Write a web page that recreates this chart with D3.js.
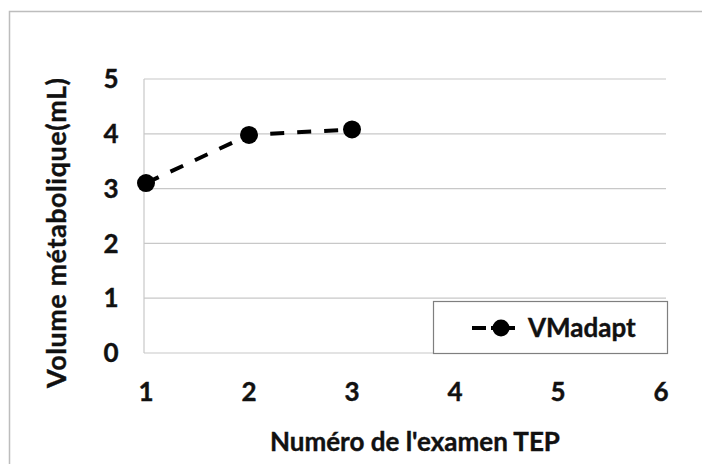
<!DOCTYPE html>
<html>
<head>
<meta charset="utf-8">
<script src="https://cdn.jsdelivr.net/npm/d3@7"></script>
<style>
  body { margin: 0; background: #fff; }
  text { font-family: Lato, "Open Sans", sans-serif; font-weight: bold; fill: #111; stroke: #111; stroke-width: 0.4px; }
</style>
</head>
<body>
<div id="chart"></div>
<script>
var width = 702;
var height = 464;

var examens = [1, 2, 3];
var vmadapt = [3.1, 3.98, 4.08];
var xTicks = [1, 2, 3, 4, 5, 6];
var yTicks = [0, 1, 2, 3, 4, 5];
var seriesName = "VMadapt";

var svg = d3.select("#chart").append("svg")
  .attr("width", width)
  .attr("height", height);

// outer frame
svg.append("rect")
  .attr("x", 9.5).attr("y", 11.5)
  .attr("width", 700).attr("height", 460)
  .attr("fill", "none")
  .attr("stroke", "#bdbdbd")
  .attr("stroke-width", 1.5);

var x = d3.scaleLinear().domain([1, 6]).range([146, 661]);
var y = d3.scaleLinear().domain([0, 5]).range([353, 79]);

// gridlines
svg.append("g").selectAll("line")
  .data(yTicks.filter(function(d) { return d > 0; }))
  .enter().append("line")
  .attr("x1", 144).attr("x2", 666)
  .attr("y1", function(d) { return y(d); })
  .attr("y2", function(d) { return y(d); })
  .attr("stroke", "#c8c8c8")
  .attr("stroke-width", 1.2);

// axes lines
svg.append("line")
  .attr("x1", 144).attr("x2", 144)
  .attr("y1", y(5)).attr("y2", y(0))
  .attr("stroke", "#c8c8c8").attr("stroke-width", 1.2);
svg.append("line")
  .attr("x1", 144).attr("x2", 666)
  .attr("y1", y(0)).attr("y2", y(0))
  .attr("stroke", "#c8c8c8").attr("stroke-width", 1.2);

// y tick labels
svg.append("g").selectAll("text")
  .data(yTicks)
  .enter().append("text")
  .attr("x", 111)
  .attr("y", function(d) { return y(d); })
  .attr("dy", "0.35em")
  .attr("text-anchor", "middle")
  .style("font-size", "26px")
  .text(function(d) { return d; });

// x tick labels
svg.append("g").selectAll("text")
  .data(xTicks)
  .enter().append("text")
  .attr("x", function(d) { return x(d); })
  .attr("y", 392)
  .attr("dy", "0.35em")
  .attr("text-anchor", "middle")
  .style("font-size", "26px")
  .text(function(d) { return d; });

// axis titles
svg.append("text")
  .attr("x", 415).attr("y", 442)
  .attr("dy", "0.35em")
  .attr("text-anchor", "middle")
  .style("font-size", "26px")
  .text("Numéro de l'examen TEP");

svg.append("text")
  .attr("transform", "translate(57,233) rotate(-90)")
  .attr("dy", "0.35em")
  .attr("text-anchor", "middle")
  .style("font-size", "27px")
  .attr("textLength", 310)
  .text("Volume métabolique(mL)");

// series
var data = examens.map(function(d, i) { return { x: d, y: vmadapt[i] }; });
var line = d3.line()
  .x(function(d) { return x(d.x); })
  .y(function(d) { return y(d.y); });

svg.append("path")
  .datum(data)
  .attr("d", line)
  .attr("fill", "none")
  .attr("stroke", "#000")
  .attr("stroke-width", 4)
  .attr("stroke-dasharray", "14,13");

svg.append("g").selectAll("circle")
  .data(data)
  .enter().append("circle")
  .attr("cx", function(d) { return x(d.x); })
  .attr("cy", function(d) { return y(d.y); })
  .attr("r", 9)
  .attr("fill", "#000");

// legend
var legend = svg.append("g");
legend.append("rect")
  .attr("x", 433.5).attr("y", 301.5)
  .attr("width", 234).attr("height", 52)
  .attr("fill", "#fff")
  .attr("stroke", "#7f7f7f")
  .attr("stroke-width", 1.2);
legend.append("line")
  .attr("x1", 472).attr("x2", 515)
  .attr("y1", 328).attr("y2", 328)
  .attr("stroke", "#000").attr("stroke-width", 4);
legend.append("circle")
  .attr("cx", 501).attr("cy", 328).attr("r", 8.5)
  .attr("fill", "#000");
legend.append("rect")
  .attr("x", 486).attr("y", 324)
  .attr("width", 5).attr("height", 8)
  .attr("fill", "#fff");
legend.append("text")
  .attr("x", 528).attr("y", 328)
  .attr("dy", "0.35em")
  .style("font-size", "26px")
  .text(seriesName);
</script>
</body>
</html>
